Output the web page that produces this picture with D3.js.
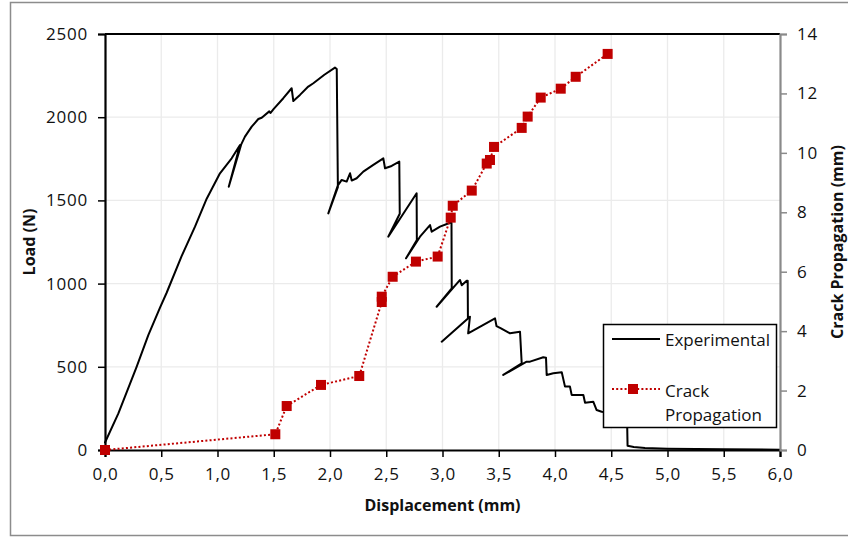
<!DOCTYPE html>
<html>
<head>
<meta charset="utf-8">
<script src="https://cdn.jsdelivr.net/npm/d3@7"></script>
<style>
  html, body { margin: 0; padding: 0; background: #fff; }
  svg { display: block; }
  text { font-family: "Open Sans", "Noto Sans", sans-serif; fill: #111; }
</style>
</head>
<body>
<svg id="chart" width="848" height="538"></svg>
<script>
// Load–displacement record of the test (displacement in mm, load in N)
const expDisp = [
  0.00, 0.119, 0.281, 0.385, 0.489, 0.548, 0.681, 0.80, 0.904, 1.022, 1.126, 1.20,
  1.10, 1.21, 1.244, 1.304, 1.363, 1.393, 1.46, 1.47, 1.50, 1.585, 1.659, 1.674,
  1.733, 1.807, 1.852, 1.95, 2.044, 2.06, 2.07, 1.985, 2.07, 2.104, 2.148, 2.178,
  2.193, 2.237, 2.296, 2.385, 2.474, 2.489, 2.548, 2.616, 2.62, 2.518, 2.77, 2.772,
  2.676, 2.80, 2.889, 2.904, 2.978, 3.067, 3.08, 3.082, 2.948, 3.156, 3.171, 3.215,
  3.224, 3.226, 2.993, 3.244, 3.228, 3.467, 3.48, 3.52, 3.60, 3.689, 3.704, 3.54,
  3.748, 3.778, 3.896, 3.92, 3.926, 3.985, 4.06, 4.089, 4.133, 4.148, 4.252, 4.267,
  4.34, 4.37, 4.415, 4.60, 4.64, 4.645, 4.70, 4.80, 5.00, 5.50, 6.00];
const expLoad = [
  45, 220, 500, 690, 855, 945, 1165, 1342, 1510, 1663, 1753, 1833,
  1582, 1835, 1883, 1943, 1989, 1997, 2035, 2025, 2050, 2114, 2174, 2097,
  2134, 2184, 2204, 2255, 2298, 2290, 1580, 1422, 1590, 1623, 1613, 1663,
  1619, 1633, 1673, 1713, 1753, 1693, 1707, 1733, 1420, 1282, 1543, 1262,
  1152, 1282, 1352, 1312, 1342, 1366, 1366, 972, 861, 1022, 990, 1017,
  1017, 790, 651, 801, 701, 791, 745, 731, 701, 711, 521, 451,
  531, 531, 557, 555, 451, 461, 467, 381, 381, 331, 331, 284,
  290, 240, 230, 215, 210, 25, 18, 12, 8, 4, 2];

// Crack length measured at selected displacements (mm)
const crackDisp = [0.00, 1.514, 1.615, 1.92, 2.26, 2.46, 2.46, 2.557, 2.764, 2.957, 3.073, 3.091,
  3.26, 3.393, 3.422, 3.458, 3.704, 3.757, 3.873, 4.051, 4.184, 4.468];
const crackLen = [0.00, 0.53, 1.48, 2.19, 2.49, 4.98, 5.16, 5.83, 6.34, 6.51, 7.82, 8.22,
  8.73, 9.64, 9.76, 10.20, 10.84, 11.22, 11.86, 12.16, 12.56, 13.33];

// Axis ticks
const xTicks = [0, 0.5, 1, 1.5, 2, 2.5, 3, 3.5, 4, 4.5, 5, 5.5, 6];
const xTickLabels = ["0,0", "0,5", "1,0", "1,5", "2,0", "2,5", "3,0", "3,5", "4,0", "4,5", "5,0", "5,5", "6,0"];
const loadTicks = [0, 500, 1000, 1500, 2000, 2500];
const crackTicks = [0, 2, 4, 6, 8, 10, 12, 14];

const svg = d3.select("#chart");
const plotL = 105, plotT = 34, plotR = 780, plotB = 450;
const red = "#c00000";

const x = d3.scaleLinear().domain([0, 6]).range([plotL, plotR]);
const yL = d3.scaleLinear().domain([0, 2500]).range([plotB, plotT]);
const yC = d3.scaleLinear().domain([0, 14]).range([plotB, plotT]);

// outer frame
svg.append("rect")
  .attr("x", 10.5).attr("y", 2.5).attr("width", 845).attr("height", 533)
  .attr("fill", "none").attr("stroke", "#8c8c8c").attr("stroke-width", 1.5);

// gridlines
const grid = svg.append("g");
grid.selectAll("line.v").data(xTicks.slice(1, -1)).join("line")
  .attr("class", "v")
  .attr("x1", d => x(d)).attr("x2", d => x(d))
  .attr("y1", plotT).attr("y2", plotB)
  .attr("stroke", "#ebebeb").attr("stroke-width", 1.3);
grid.selectAll("line.h").data(loadTicks.slice(1, -1)).join("line")
  .attr("class", "h")
  .attr("x1", plotL).attr("x2", plotR)
  .attr("y1", d => yL(d)).attr("y2", d => yL(d))
  .attr("stroke", "#ebebeb").attr("stroke-width", 1.3);

// experimental load curve
const expData = expDisp.map((d, i) => [d, expLoad[i]]);
svg.append("path")
  .datum(expData)
  .attr("fill", "none").attr("stroke", "#000").attr("stroke-width", 2)
  .attr("stroke-linejoin", "round").attr("stroke-linecap", "round")
  .attr("d", d3.line().x(d => x(d[0])).y(d => yL(d[1])));

// axes
const tickFont = g => g.selectAll("text")
  .style("font-family", "'Open Sans', sans-serif")
  .style("font-size", "17px")
  .style("letter-spacing", "0.8px")
  .attr("fill", "#111");

const xAxis = svg.append("g")
  .attr("transform", `translate(0,${plotB})`)
  .call(d3.axisBottom(x).tickValues(xTicks).tickFormat((d, i) => xTickLabels[i]).tickSize(7).tickPadding(11))
  .call(tickFont);
xAxis.selectAll("line").attr("stroke", "#000").attr("stroke-width", 1.5);
xAxis.select(".domain").attr("stroke", "#000").attr("stroke-width", 2.2);

const yAxisL = svg.append("g")
  .attr("transform", `translate(${plotL},0)`)
  .call(d3.axisLeft(yL).tickValues(loadTicks).tickFormat(d3.format("d")).tickSize(7).tickPadding(10))
  .call(tickFont);
yAxisL.selectAll("line").attr("stroke", "#000").attr("stroke-width", 1.5);
yAxisL.select(".domain").attr("stroke", "#000").attr("stroke-width", 2.2);

// top border of plot area
svg.append("line")
  .attr("x1", plotL).attr("x2", plotR).attr("y1", plotT).attr("y2", plotT)
  .attr("stroke", "#000").attr("stroke-width", 2.2);

const yAxisR = svg.append("g")
  .attr("transform", `translate(${plotR},0)`)
  .call(d3.axisRight(yC).tickValues(crackTicks).tickFormat(d3.format("d")).tickSize(7).tickPadding(10))
  .call(tickFont);
yAxisR.selectAll("line").attr("stroke", "#8a8a8a").attr("stroke-width", 1.5);
yAxisR.select(".domain").attr("stroke", "#8a8a8a").attr("stroke-width", 2.2);

// crack propagation series
const crackData = crackDisp.map((d, i) => [d, crackLen[i]]);
svg.append("path")
  .datum(crackData)
  .attr("fill", "none").attr("stroke", red).attr("stroke-width", 2)
  .attr("stroke-dasharray", "2,2.2")
  .attr("d", d3.line().x(d => x(d[0])).y(d => yC(d[1])));
svg.selectAll("rect.mk").data(crackData).join("rect")
  .attr("class", "mk")
  .attr("x", d => x(d[0]) - 5).attr("y", d => yC(d[1]) - 5)
  .attr("width", 10).attr("height", 10)
  .attr("fill", red);

// axis titles
svg.append("text")
  .attr("x", (plotL + plotR) / 2).attr("y", 511)
  .attr("text-anchor", "middle")
  .style("font-weight", "bold").style("font-size", "16px")
  .text("Displacement (mm)");
svg.append("text")
  .attr("transform", `translate(35,${(plotT + plotB) / 2}) rotate(-90)`)
  .attr("text-anchor", "middle")
  .style("font-weight", "bold").style("font-size", "16px")
  .text("Load (N)");
svg.append("text")
  .attr("transform", `translate(843,${(plotT + plotB) / 2}) rotate(-90)`)
  .attr("text-anchor", "middle")
  .style("font-weight", "bold").style("font-size", "16px")
  .text("Crack Propagation (mm)");

// legend
const lg = svg.append("g");
lg.append("rect")
  .attr("x", 603.5).attr("y", 324.5).attr("width", 173).attr("height", 103)
  .attr("fill", "#fff").attr("stroke", "#000").attr("stroke-width", 1.5);
lg.append("line")
  .attr("x1", 612).attr("x2", 660).attr("y1", 339).attr("y2", 339)
  .attr("stroke", "#000").attr("stroke-width", 2);
lg.append("text").attr("x", 665).attr("y", 346).style("font-size", "17px").text("Experimental");
lg.append("line")
  .attr("x1", 612).attr("x2", 660).attr("y1", 389).attr("y2", 389)
  .attr("stroke", red).attr("stroke-width", 2).attr("stroke-dasharray", "2,2.2");
lg.append("rect")
  .attr("x", 628).attr("y", 384).attr("width", 10).attr("height", 10).attr("fill", red);
lg.append("text").attr("x", 665).attr("y", 397).style("font-size", "17px").text("Crack");
lg.append("text").attr("x", 665).attr("y", 421).style("font-size", "17px").text("Propagation");
</script>
</body>
</html>
